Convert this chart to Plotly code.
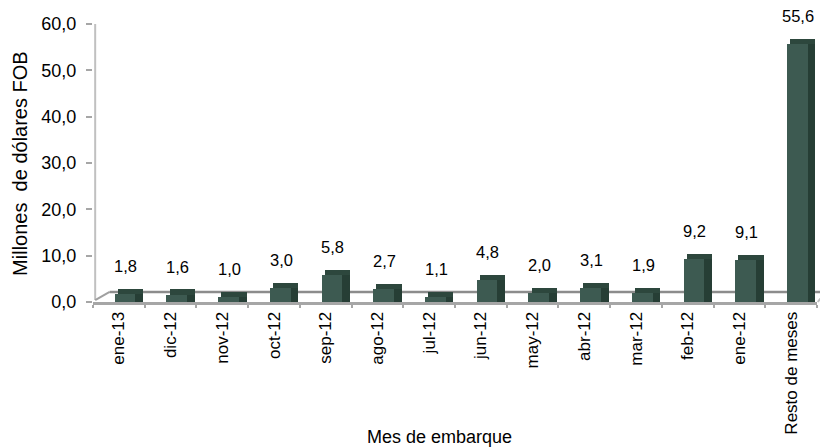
import plotly.graph_objects as go

meses = ["ene-13", "dic-12", "nov-12", "oct-12", "sep-12", "ago-12", "jul-12",
         "jun-12", "may-12", "abr-12", "mar-12", "feb-12", "ene-12", "Resto de meses"]
valores = [1.8, 1.6, 1.0, 3.0, 5.8, 2.7, 1.1, 4.8, 2.0, 3.1, 1.9, 9.2, 9.1, 55.6]
etiquetas = ["1,8", "1,6", "1,0", "3,0", "5,8", "2,7", "1,1",
             "4,8", "2,0", "3,1", "1,9", "9,2", "9,1", "55,6"]

FRENTE = "#3d5a51"
LADO = "#263e35"
TAPA = "#2d473d"
GRIS = "#a6a6a6"
FUENTE = "Liberation Sans, Arial, sans-serif"
PROFUNDIDAD = 1.1  # grosor visual de la tapa superior (estilo)

fig = go.Figure()

# tapa superior (efecto 3D)
fig.add_trace(go.Bar(x=meses, y=[PROFUNDIDAD] * len(meses), base=valores,
                     offset=-0.02, width=0.49,
                     marker=dict(color=TAPA, line=dict(width=0)),
                     hoverinfo="skip", showlegend=False))
# cara frontal de las barras
fig.add_trace(go.Bar(x=meses, y=valores, offset=-0.08, width=0.4,
                     marker=dict(color=FRENTE, line=dict(width=0)),
                     hoverinfo="x+y", showlegend=False))
# cara lateral (efecto 3D)
fig.add_trace(go.Bar(x=meses, y=valores, offset=0.32, width=0.15,
                     marker=dict(color=LADO, line=dict(width=0)),
                     hoverinfo="skip", showlegend=False))

# etiquetas de datos
for m, v, t in zip(meses, valores, etiquetas):
    fig.add_annotation(x=m, y=v, text=t, showarrow=False, xshift=7, yshift=28,
                       font=dict(size=16.5, color="#000000", family=FUENTE))

# títulos de ejes
fig.add_annotation(xref="paper", yref="paper", x=-0.101, y=0.5, text="Millones  de dólares FOB",
                   textangle=-90, showarrow=False, xanchor="center", yanchor="middle",
                   font=dict(size=20, color="#000000", family=FUENTE))
fig.add_annotation(xref="paper", yref="paper", x=0.478, y=-0.486, text="Mes de embarque",
                   showarrow=False, xanchor="center", yanchor="middle",
                   font=dict(size=18, color="#000000", family=FUENTE))

# paredes y piso del gráfico
lineas = [
    dict(x0=0.003, y0=1.0, x1=0.003, y1=0.007, color="#c0c0c0", width=2),
    dict(x0=0.003, y0=0.007, x1=0.023, y1=0.036, color="#a0a0a0", width=2),
    dict(x0=0.023, y0=0.036, x1=1.012, y1=0.036, color="#8c8c8c", width=2.5),
    dict(x0=1.012, y0=0.036, x1=1.001, y1=0.0, color="#bfbfbf", width=2),
]
for l in lineas:
    fig.add_shape(type="line", xref="paper", yref="paper", x0=l["x0"], y0=l["y0"],
                  x1=l["x1"], y1=l["y1"], line=dict(color=l["color"], width=l["width"]),
                  layer="below")

# la página deja 8 px de margen, por eso la figura mide 820x439
fig.update_layout(
    width=820, height=439,
    margin=dict(l=85, r=11, t=16, b=145),
    plot_bgcolor="white", paper_bgcolor="white",
    separators=",.",
    bargap=0,
    font=dict(family=FUENTE, size=13, color="#000000"),
    xaxis=dict(
        tickangle=-90, showline=True, linecolor=GRIS, linewidth=3,
        ticks="outside", ticklen=3, tickcolor=GRIS, tickwidth=2, tickson="boundaries",
        tickfont=dict(size=17, family=FUENTE, color="#000000"),
        showgrid=False, zeroline=False, fixedrange=True, automargin=False,
    ),
    yaxis=dict(
        range=[0, 60], dtick=10, tickformat=".1f",
        showline=False, showgrid=False, zeroline=False,
        ticks="outside", ticklen=6, tickcolor=GRIS, tickwidth=2, ticklabelstandoff=6,
        tickfont=dict(size=18, family=FUENTE, color="#000000"),
        fixedrange=True, automargin=False,
    ),
)

fig.write_html("out.html")
